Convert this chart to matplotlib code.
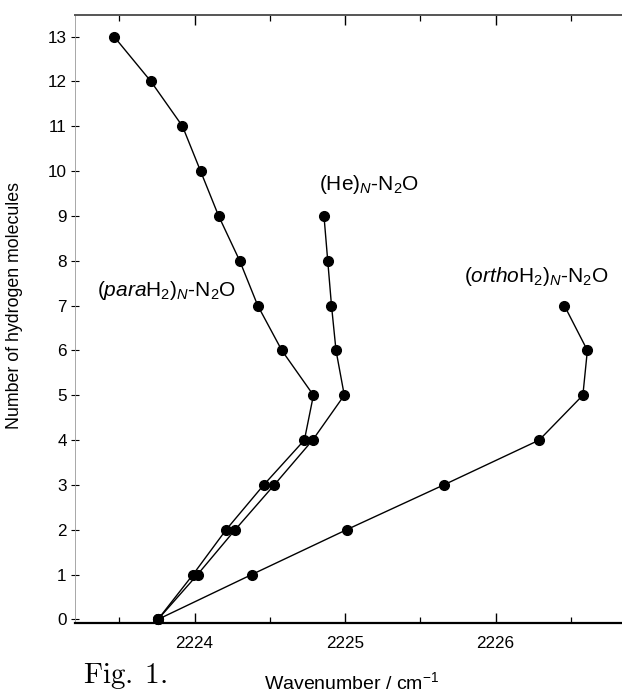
import matplotlib
matplotlib.use("Agg")
import matplotlib.pyplot as plt
from matplotlib.ticker import MultipleLocator

plt.rcParams['font.family'] = ['Liberation Sans', 'DejaVu Sans']
plt.rcParams['mathtext.fontset'] = 'custom'
plt.rcParams['mathtext.rm'] = 'Liberation Sans'
plt.rcParams['mathtext.it'] = 'Liberation Sans:italic'

# data
n_para = list(range(0, 14))
wn_para = [2223.757, 2223.99, 2224.21, 2224.46, 2224.73, 2224.79, 2224.58,
           2224.42, 2224.30, 2224.16, 2224.04, 2223.92, 2223.71, 2223.465]
n_he = list(range(0, 10))
wn_he = [2223.757, 2224.02, 2224.27, 2224.53, 2224.785, 2224.995, 2224.94,
         2224.91, 2224.885, 2224.86]
n_ortho = list(range(0, 8))
wn_ortho = [2223.757, 2224.38, 2225.01, 2225.656, 2226.29, 2226.58, 2226.61,
            2226.457]
x_ticks = [2224, 2225, 2226]
y_ticks = list(range(0, 14))

fig = plt.figure(figsize=(6.22, 6.93), dpi=100)
ax = fig.add_axes([75/622, 1-623/693, 1-75/622, (623-15)/693])

for x, y in [(wn_para, n_para), (wn_he, n_he), (wn_ortho, n_ortho)]:
    ax.plot(x, y, '-', color='black', lw=1.0, marker='o', ms=7,
            mfc='black', mec='black', clip_on=False, zorder=3)

ax.set_xlim(2223.206, 2226.84)
ax.set_ylim(-0.08, 13.48)
ax.set_xticks(x_ticks)
ax.set_yticks(y_ticks)
ax.xaxis.set_minor_locator(MultipleLocator(0.5))

ax.spines['left'].set_color('#999999')
ax.spines['left'].set_linewidth(0.6)
ax.spines['right'].set_visible(False)
ax.spines['top'].set_color('#555555')
ax.spines['top'].set_linewidth(1.4)
ax.spines['bottom'].set_linewidth(1.6)

ax.tick_params(axis='x', which='major', direction='in', top=True, length=7,
               width=1.0, labelsize=12.3, pad=9)
ax.tick_params(axis='x', which='minor', direction='in', top=True, length=4,
               width=0.9)
ax.tick_params(axis='y', which='major', direction='inout', length=6, width=0.8,
               labelsize=12.3, pad=3)

ax.set_ylabel('Number of hydrogen molecules', fontsize=12.8)
ax.yaxis.set_label_coords(-0.095, 0.523)

fig.text(352/622, 1-682/693, r'Wavenumber / cm$^{\mathregular{-1}}$',
         ha='center', va='center', fontsize=14)
fig.text(83/622, 1-676/693, r'$\mathrm{Fig.}\;\mathrm{1.}$', ha='left',
         va='center', fontsize=21, math_fontfamily='cm')

fig.text(97/622, 1-290/693, r'($\mathit{para}$H$_2$)$_{\mathit{N}}$-N$_2$O',
         ha='left', va='center', fontsize=15)
fig.text(319/622, 1-185/693, r'(He)$_{\mathit{N}}$-N$_2$O',
         ha='left', va='center', fontsize=15)
fig.text(464/622, 1-277/693, r'($\mathit{ortho}$H$_2$)$_{\mathit{N}}$-N$_2$O',
         ha='left', va='center', fontsize=15)

fig.savefig('out.png', dpi=100)
